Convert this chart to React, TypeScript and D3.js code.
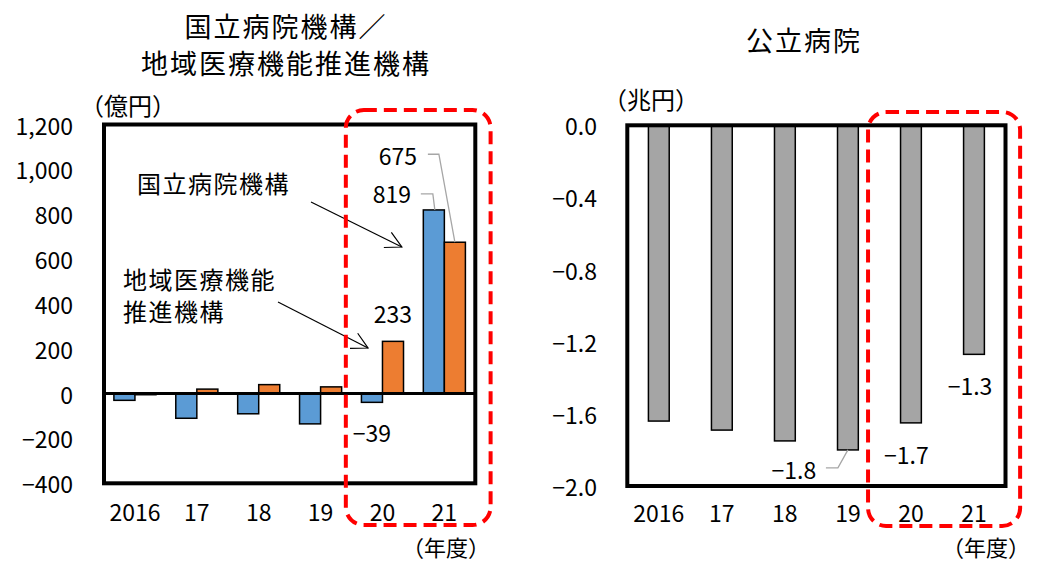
import * as d3 from 'd3';

// 年度
const years = ['2016', '17', '18', '19', '20', '21'];
const seriesKeys = ['kokuritsu', 'chiiki'];

// 国立病院機構 / 地域医療機能推進機構（億円）
const kokuritsuValues = [-30, -110, -90, -135, -39, 819];
const chiikiValues = [-5, 20, 40, 30, 233, 675];

// 公立病院（兆円）
const kouritsuValues = [-1.64, -1.69, -1.75, -1.8, -1.65, -1.27];

const leftTicks = [-400, -200, 0, 200, 400, 600, 800, 1000, 1200];
const rightTicks = [-2.0, -1.6, -1.2, -0.8, -0.4, 0.0];

const FONT = "'Noto Sans CJK JP', 'Noto Sans', sans-serif";
const BLUE = '#5B9BD5';
const ORANGE = '#ED7D31';
const GRAY = '#A5A5A5';
const RED = '#FF0000';
const LEADER = '#A6A6A6';

function Arrow({ x1, y1, x2, y2 }: { x1: number; y1: number; x2: number; y2: number }) {
  const angle = Math.atan2(y1 - y2, x1 - x2);
  const len = 18;
  const spread = (28 * Math.PI) / 180;
  const a = [x2 + len * Math.cos(angle + spread), y2 + len * Math.sin(angle + spread)];
  const b = [x2 + len * Math.cos(angle - spread), y2 + len * Math.sin(angle - spread)];
  return (
    <g stroke="#000" strokeWidth={1.2} fill="none">
      <line x1={x1} y1={y1} x2={x2} y2={y2} />
      <polyline points={`${a[0]},${a[1]} ${x2},${y2} ${b[0]},${b[1]}`} />
    </g>
  );
}

export default function App() {
  const width = 1039;
  const height = 561;

  // left panel
  const xL = d3.scaleBand<string>().domain(years).range([104, 475.3]).paddingInner(0.32).paddingOuter(0.16);
  const xL1 = d3.scaleBand<string>().domain(seriesKeys).range([0, xL.bandwidth()]);
  const yL = d3.scaleLinear().domain([-400, 1200]).range([483.3, 124.5]);
  const fmtL = d3.format(',');

  // right panel
  const xR = d3.scaleBand<string>().domain(years).range([627.3, 1005.5]).paddingInner(0.67).paddingOuter(0.335);
  const yR = d3.scaleLinear().domain([-2, 0]).range([486, 125.3]);
  const fmtR = d3.format('.1f');

  const leftBars = years.flatMap((yr, i) => [
    { yr, key: 'kokuritsu', v: kokuritsuValues[i], color: BLUE },
    { yr, key: 'chiiki', v: chiikiValues[i], color: ORANGE },
  ]);

  const cx = (yr: string, key: string) => (xL(yr) ?? 0) + (xL1(key) ?? 0) + xL1.bandwidth() / 2;
  const cxR = (yr: string) => (xR(yr) ?? 0) + xR.bandwidth() / 2;

  const stepL = xL.step();
  const stepR = xR.step();

  return (
    <svg width={width} height={height} style={{ position: 'absolute', left: 0, top: 0, background: '#fff' }} fontFamily={FONT}>
      {/* titles */}
      <g fontSize={27} letterSpacing={2} textAnchor="middle" dominantBaseline="central" fill="#000">
        <text x={286} y={25}>国立病院機構／</text>
        <text x={286} y={62}>地域医療機能推進機構</text>
        <text x={804} y={39}>公立病院</text>
      </g>

      {/* units */}
      <g fontSize={24} textAnchor="middle" dominantBaseline="central" fill="#000">
        <text x={128} y={104}>（億円）</text>
        <text x={651} y={98}>（兆円）</text>
      </g>
      <g fontSize={22} textAnchor="middle" dominantBaseline="central" fill="#000">
        <text x={446} y={546}>（年度）</text>
        <text x={986} y={546}>（年度）</text>
      </g>

      {/* left y ticks */}
      <g fontSize={23} textAnchor="end" dominantBaseline="central" fill="#000">
        {leftTicks.map((t) => (
          <text key={t} x={73} y={yL(t)}>{fmtL(t)}</text>
        ))}
      </g>

      {/* left bars */}
      {leftBars.map((d) => (
        <rect
          key={d.yr + d.key}
          x={(xL(d.yr) ?? 0) + (xL1(d.key) ?? 0)}
          y={yL(Math.max(0, d.v))}
          width={xL1.bandwidth()}
          height={Math.abs(yL(d.v) - yL(0))}
          fill={d.color}
          stroke="#000"
          strokeWidth={1.5}
        />
      ))}
      <line x1={104} x2={475.3} y1={yL(0)} y2={yL(0)} stroke="#000" strokeWidth={3} />
      <rect x={104} y={124.5} width={371.3} height={358.8} fill="none" stroke="#000" strokeWidth={4} />

      {/* left x labels */}
      <g fontSize={23} textAnchor="middle" dominantBaseline="central" fill="#000">
        {years.map((yr) => (
          <text key={yr} x={(xL(yr) ?? 0) + xL.bandwidth() / 2} y={511}>{yr}</text>
        ))}
      </g>

      {/* left data labels */}
      <g fontSize={23} textAnchor="middle" dominantBaseline="central" fill="#000">
        <text x={cx('21', 'kokuritsu') - 42} y={yL(819) - 17}>{kokuritsuValues[5]}</text>
        <text x={cx('21', 'chiiki') - 57} y={yL(675) - 87}>{chiikiValues[5]}</text>
        <text x={cx('20', 'chiiki')} y={yL(233) - 28}>{chiikiValues[4]}</text>
        <text x={cx('20', 'kokuritsu')} y={yL(-39) + 30}>{'−' + Math.abs(kokuritsuValues[4])}</text>
      </g>
      <g fill="none" stroke={LEADER} strokeWidth={1.3}>
        <polyline
          points={`${cx('21', 'kokuritsu') - 13},${yL(819) - 16} ${cx('21', 'kokuritsu') - 1},${yL(819) - 16} ${cx('21', 'kokuritsu') + 1},${yL(819)}`}
        />
        <polyline
          points={`${cx('21', 'chiiki') - 27},${yL(675) - 88} ${cx('21', 'chiiki') - 16},${yL(675) - 88} ${cx('21', 'chiiki')},${yL(675)}`}
        />
      </g>

      {/* left annotations */}
      <g fontSize={24} letterSpacing={1.5} dominantBaseline="central" fill="#000">
        <text x={137} y={182}>国立病院機構</text>
        <text x={123} y={278}>地域医療機能</text>
        <text x={123} y={310}>推進機構</text>
      </g>
      <Arrow x1={311} y1={202} x2={cx('21', 'kokuritsu') - 32} y2={247} />
      <Arrow x1={278} y1={302} x2={cx('20', 'chiiki') - 25} y2={348} />

      {/* left highlight */}
      <rect
        x={(xL('20') ?? 0) - 15.6}
        y={110}
        width={2 * stepL + 21}
        height={415}
        rx={18}
        fill="none"
        stroke={RED}
        strokeWidth={4}
        strokeDasharray="13 7"
      />

      {/* right y ticks */}
      <g fontSize={23} textAnchor="end" dominantBaseline="central" fill="#000">
        {rightTicks.map((t) => (
          <text key={t} x={597} y={yR(t)}>{fmtR(t)}</text>
        ))}
      </g>

      {/* right bars */}
      {years.map((yr, i) => (
        <rect
          key={yr}
          x={xR(yr)}
          y={yR(0)}
          width={xR.bandwidth()}
          height={yR(kouritsuValues[i]) - yR(0)}
          fill={GRAY}
          stroke="#000"
          strokeWidth={1.5}
        />
      ))}
      <rect x={627.3} y={125.3} width={378.2} height={360.7} fill="none" stroke="#000" strokeWidth={4} />

      {/* right x labels */}
      <g fontSize={23} textAnchor="middle" dominantBaseline="central" fill="#000">
        {years.map((yr) => (
          <text key={yr} x={cxR(yr)} y={512}>{yr}</text>
        ))}
      </g>

      {/* right data labels */}
      <g fontSize={23} textAnchor="middle" dominantBaseline="central" fill="#000">
        <text x={cxR('19') - 54} y={yR(kouritsuValues[3]) + 19}>{fmtR(-1.8)}</text>
        <text x={cxR('20') - 4.5} y={yR(kouritsuValues[4]) + 31}>{fmtR(-1.7)}</text>
        <text x={cxR('21') - 4} y={yR(kouritsuValues[5]) + 31}>{fmtR(-1.3)}</text>
      </g>
      <polyline
        points={`${cxR('19') - 22},${yR(kouritsuValues[3]) + 18} ${cxR('19') - 10},${yR(kouritsuValues[3]) + 18} ${cxR('19')},${yR(kouritsuValues[3])}`}
        fill="none"
        stroke={LEADER}
        strokeWidth={1.3}
      />

      {/* right highlight */}
      <rect
        x={(xR('20') ?? 0) - 32.5}
        y={112}
        width={2 * stepR + 26}
        height={414}
        rx={18}
        fill="none"
        stroke={RED}
        strokeWidth={4}
        strokeDasharray="13 7"
      />
    </svg>
  );
}
